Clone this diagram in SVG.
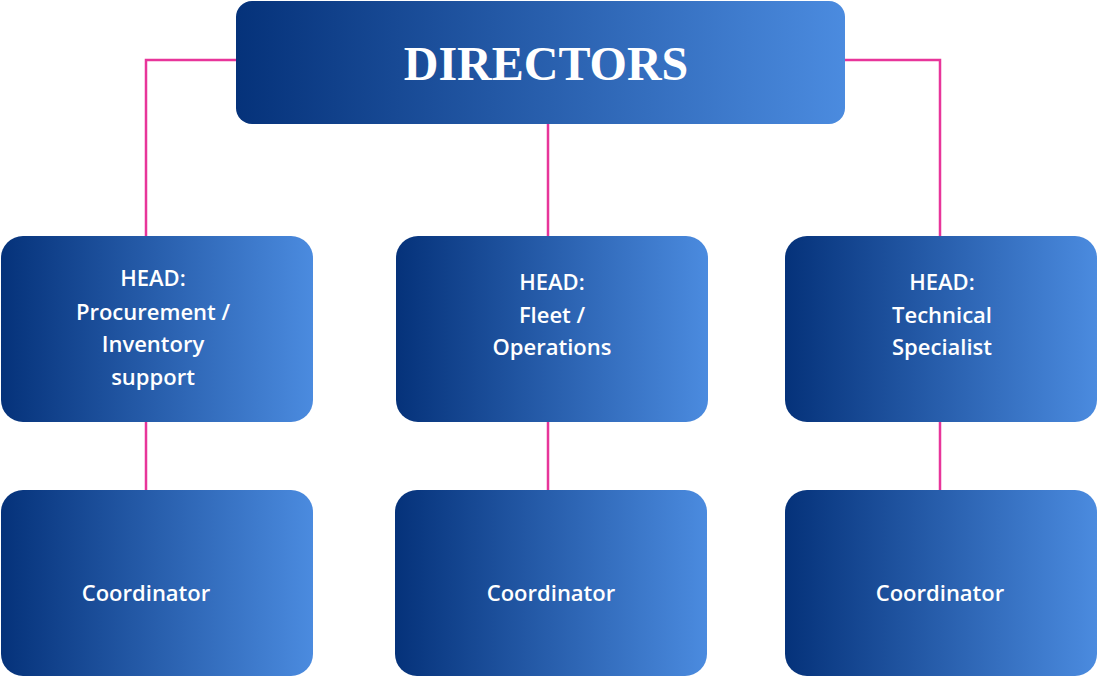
<svg xmlns="http://www.w3.org/2000/svg" width="1098" height="678" viewBox="0 0 1098 678">
<defs>
<linearGradient id="g" x1="0" y1="0" x2="1" y2="0">
<stop offset="0" stop-color="#05327A"/><stop offset="1" stop-color="#4B8BDF"/>
</linearGradient>
<style>
.b{fill:url(#g)}
.t{fill:#fff;font-family:"Open Sans","Liberation Sans",sans-serif;font-weight:600;font-size:22px;text-anchor:middle}
.c{fill:none;stroke:#E8359A;stroke-width:2.5}
</style>
</defs>
<rect width="1098" height="678" fill="#fff"/>
<g id="connectors">
<path class="c" d="M236 60H146V236M845 60H940V236M548 124V236M146 422V490M548 422V490M940 422V490"/>
</g>
<g id="directors"><rect class="b" x="236" y="1" width="609" height="123" rx="16"/>
<text x="546" y="80" fill="#fff" font-family="Liberation Serif,serif" font-weight="bold" font-size="48" text-anchor="middle">DIRECTORS</text></g>
<g id="head1"><rect class="b" x="1" y="236" width="312" height="186" rx="22"/>
<text class="t" x="153" y="286">HEAD:</text><text class="t" x="153" y="320">Procurement /</text><text class="t" x="153" y="352">Inventory</text><text class="t" x="153" y="385">support</text></g>
<g id="head2"><rect class="b" x="396" y="236" width="312" height="186" rx="22"/>
<text class="t" x="552" y="290">HEAD:</text><text class="t" x="552" y="323">Fleet /</text><text class="t" x="552" y="355">Operations</text></g>
<g id="head3"><rect class="b" x="785" y="236" width="312" height="186" rx="22"/>
<text class="t" x="942" y="290">HEAD:</text><text class="t" x="942" y="323">Technical</text><text class="t" x="942" y="355">Specialist</text></g>
<g id="coord1"><rect class="b" x="1" y="490" width="312" height="186" rx="22"/><text class="t" x="146" y="601">Coordinator</text></g>
<g id="coord2"><rect class="b" x="395" y="490" width="312" height="186" rx="22"/><text class="t" x="551" y="601">Coordinator</text></g>
<g id="coord3"><rect class="b" x="785" y="490" width="312" height="186" rx="22"/><text class="t" x="940" y="601">Coordinator</text></g>
</svg>
